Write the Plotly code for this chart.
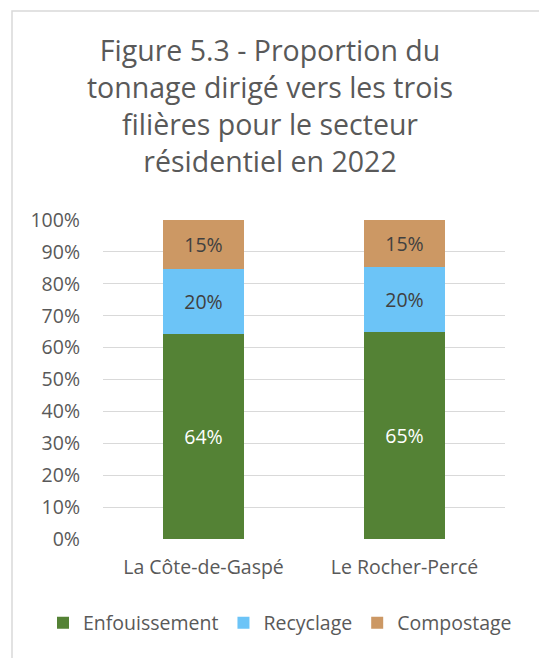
import plotly.graph_objects as go

categories = ["La Côte-de-Gaspé", "Le Rocher-Percé"]
enfouissement = [64.3, 64.8]
recyclage = [20.3, 20.4]
compostage = [15.4, 14.8]
series_names = ["Enfouissement", "Recyclage", "Compostage"]
y_ticks = [0, 10, 20, 30, 40, 50, 60, 70, 80, 90, 100]
y_tick_labels = [f"{v}%" for v in y_ticks]

FONT = "Open Sans"
GREY = "#595959"
colors = ["#548235", "#6CC4F7", "#CC9864"]
label_colors = ["#FFFFFF", "#404040", "#404040"]
FS = 19.5

fig = go.Figure()
for name, vals, col, lc in zip(series_names, [enfouissement, recyclage, compostage], colors, label_colors):
    fig.add_trace(go.Bar(
        name=name, x=categories, y=vals, marker=dict(color=col, line=dict(width=0)),
        texttemplate="%{y:.0f}%", textposition="inside", insidetextanchor="middle",
        textfont=dict(family=FONT, size=FS, color=lc), constraintext="none",
    ))

W, H = 539, 658
L, R, T, B = 103, 34, 220, 119
pw, ph = W - L - R, H - T - B

def px_x(x):
    return (x - L) / pw

def px_y(y):
    return (H - B - y) / ph

fig.update_layout(
    width=W, height=H,
    margin=dict(l=L, r=R, t=T, b=B, autoexpand=False),
    barmode="stack", bargap=0.6,
    paper_bgcolor="white", plot_bgcolor="white",
    font=dict(family=FONT, color=GREY, size=FS),
    title=dict(
        text="Figure 5.3 - Proportion du<br>tonnage dirigé vers les trois<br>filières pour le secteur<br>résidentiel en 2022",
        x=270 / W, xanchor="center", xref="container",
        y=1 - 61 / H, yanchor="top", yref="container",
        font=dict(family=FONT, size=28.5, color=GREY),
    ),
    legend=dict(
        orientation="h", x=px_x(43), xanchor="left", y=px_y(623), yanchor="middle",
        font=dict(family=FONT, size=FS, color=GREY), traceorder="normal",
        itemwidth=30, tracegroupgap=0,
    ),
    yaxis=dict(
        range=[0, 100], tickvals=y_ticks, ticktext=y_tick_labels,
        showgrid=True, gridcolor="#D9D9D9", gridwidth=1.2,
        zeroline=False, showline=False, ticks="", ticklabelstandoff=22,
        tickfont=dict(family=FONT, size=FS, color=GREY),
    ),
    xaxis=dict(
        showline=False, ticks="", ticklabelstandoff=14,
        tickfont=dict(family=FONT, size=FS, color=GREY),
    ),
    showlegend=True,
)

fig.add_shape(
    type="rect", xref="paper", yref="paper",
    x0=px_x(12), x1=px_x(560), y0=px_y(680), y1=px_y(11),
    line=dict(color="#D9D9D9", width=1.5), fillcolor="rgba(0,0,0,0)", layer="below",
)

fig.write_html(
    "out.html",
    config={"displayModeBar": False},
    post_script="document.body.style.margin='0';document.body.style.overflow='hidden';",
)
